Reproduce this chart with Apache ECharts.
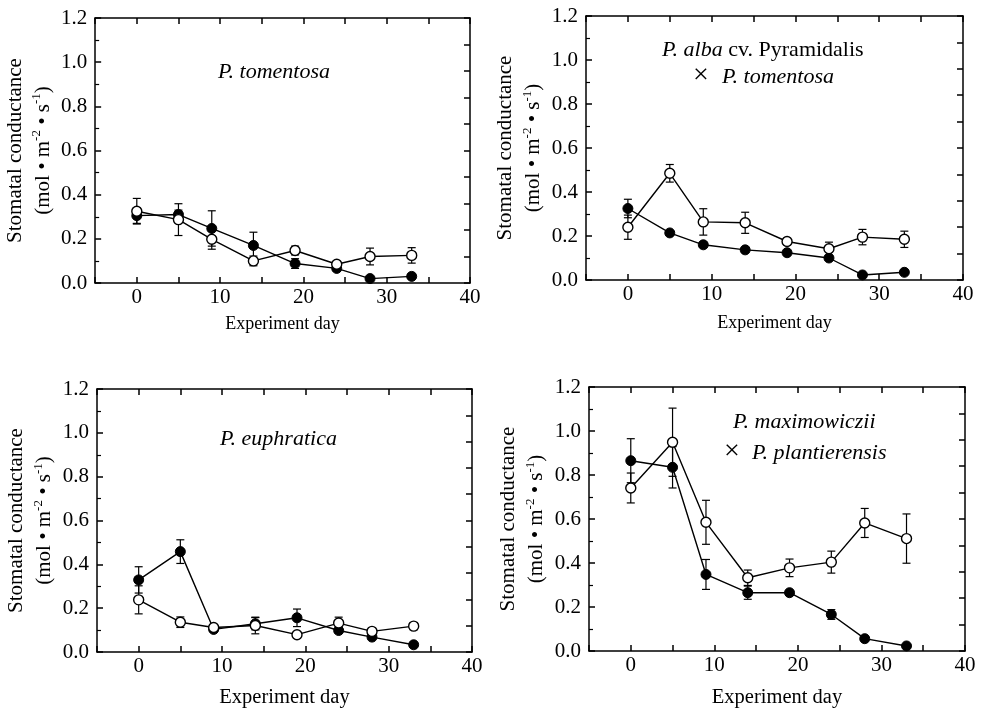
<!DOCTYPE html>
<html>
<head>
<meta charset="utf-8">
<script src="https://cdn.jsdelivr.net/npm/echarts@6/dist/echarts.min.js"></script>
<style>
  html, body { margin: 0; padding: 0; background: #fff; }
  #chart { width: 981px; height: 709px; }
</style>
</head>
<body>
<div id="chart"></div>
<script>
// experiment days (x) shared by every panel
const days = [0, 5, 9, 14, 19, 24, 28, 33];

// P. tomentosa
const tomFilled = [0.305, 0.31, 0.247, 0.17, 0.088, 0.066, 0.02, 0.03];
const tomFilledErr = [0.035, 0.02, 0.08, 0.06, 0.022, 0.01, 0.008, 0.008];
const tomOpen = [0.325, 0.287, 0.198, 0.10, 0.147, 0.085, 0.12, 0.125];
const tomOpenErr = [0.058, 0.072, 0.045, 0.022, 0.02, 0.01, 0.038, 0.035];

// P. alba cv. Pyramidalis x P. tomentosa
const albaFilled = [0.325, 0.214, 0.16, 0.137, 0.124, 0.10, 0.023, 0.035];
const albaFilledErr = [0.042, 0.01, 0.012, 0.01, 0.01, 0.008, 0.006, 0.006];
const albaOpen = [0.24, 0.485, 0.264, 0.26, 0.175, 0.142, 0.195, 0.185];
const albaOpenErr = [0.055, 0.04, 0.06, 0.048, 0.015, 0.03, 0.035, 0.037];

// P. euphratica
const euphFilled = [0.329, 0.458, 0.103, 0.129, 0.156, 0.098, 0.068, 0.033];
const euphFilledErr = [0.06, 0.054, 0.008, 0.028, 0.04, 0.01, 0.008, 0.006];
const euphOpen = [0.238, 0.136, 0.112, 0.121, 0.079, 0.132, 0.094, 0.118];
const euphOpenErr = [0.064, 0.024, 0.01, 0.038, 0.01, 0.027, 0.01, 0.016];

// P. maximowiczii x P. plantierensis
const maxiFilled = [0.865, 0.835, 0.348, 0.265, 0.265, 0.166, 0.056, 0.023];
const maxiFilledErr = [0.10, 0.094, 0.068, 0.03, 0.01, 0.022, 0.008, 0.006];
const maxiOpen = [0.741, 0.949, 0.585, 0.333, 0.378, 0.404, 0.582, 0.511];
const maxiOpenErr = [0.068, 0.155, 0.1, 0.035, 0.04, 0.05, 0.066, 0.112];

const yTicks = ['0.0', '0.2', '0.4', '0.6', '0.8', '1.0', '1.2'];
const xTicks = ['0', '10', '20', '30', '40'];

const panels = [
  { filled: tomFilled, filledErr: tomFilledErr, open: tomOpen, openErr: tomOpenErr },
  { filled: albaFilled, filledErr: albaFilledErr, open: albaOpen, openErr: albaOpenErr },
  { filled: euphFilled, filledErr: euphFilledErr, open: euphOpen, openErr: euphOpenErr },
  { filled: maxiFilled, filledErr: maxiFilledErr, open: maxiOpen, openErr: maxiOpenErr },
];

const FONT = '"Liberation Serif", "DejaVu Serif", serif';
const grids = [
  { left: 95, top: 18, width: 375, height: 265 },
  { left: 586, top: 16, width: 377, height: 264 },
  { left: 97, top: 389, width: 375, height: 264 },
  { left: 589, top: 387, width: 376, height: 265 },
];
const xNameGap = [32, 34, 35, 36];
const xNameSize = [18, 18, 20.5, 20.5];

const chart = echarts.init(document.getElementById('chart'));

const lineStyle = { color: '#000', width: 1.5 };
const xAxis = [];
const yAxis = [];
const series = [];

function errorBars(params, api) {
  const x = api.value(0);
  const y = api.value(1);
  const e = api.value(2);
  const hi = api.coord([x, y + e]);
  const lo = api.coord([x, y - e]);
  const w = 4;
  const st = { stroke: '#000', lineWidth: 1.2 };
  return {
    type: 'group',
    children: [
      { type: 'line', shape: { x1: hi[0], y1: hi[1], x2: lo[0], y2: lo[1] }, style: st },
      { type: 'line', shape: { x1: hi[0] - w, y1: hi[1], x2: hi[0] + w, y2: hi[1] }, style: st },
      { type: 'line', shape: { x1: lo[0] - w, y1: lo[1], x2: lo[0] + w, y2: lo[1] }, style: st },
    ],
  };
}

grids.forEach((g, i) => {
  // bottom axis with labels, top axis mirrors the ticks
  xAxis.push({
    type: 'value', gridIndex: i, position: 'bottom',
    min: -5, max: 40, interval: 5,
    axisLine: { onZero: false, lineStyle },
    axisTick: { inside: true, length: 6, lineStyle },
    splitLine: { show: false },
    axisLabel: {
      color: '#000', fontFamily: FONT, fontSize: 21, margin: 4,
      formatter: (v) => (xTicks.indexOf(String(v)) >= 0 ? String(v) : ''),
    },
    name: 'Experiment day', nameLocation: 'middle', nameGap: xNameGap[i],
    nameTextStyle: { color: '#000', fontFamily: FONT, fontSize: xNameSize[i] },
  });
  xAxis.push({
    type: 'value', gridIndex: i, position: 'top',
    min: -5, max: 40, interval: 5,
    axisLine: { onZero: false, lineStyle },
    axisTick: { inside: true, length: 6, lineStyle },
    axisLabel: { show: false },
    splitLine: { show: false },
  });
  yAxis.push({
    type: 'value', gridIndex: i, position: 'left',
    min: 0, max: 1.2, interval: 0.2,
    axisLine: { show: true, onZero: false, lineStyle },
    axisTick: { show: true, inside: true, length: 6, lineStyle },
    minorTick: { show: true, splitNumber: 2, length: 4, lineStyle: { color: '#000', width: 1.2 } },
    splitLine: { show: false },
    axisLabel: {
      color: '#000', fontFamily: FONT, fontSize: 21, margin: 8,
      formatter: (v) => yTicks[Math.round(v / 0.2)],
    },
    name: '{t|Stomatal conductance}\n{t|(mol • m}{s|-2}{t| • s}{s|-1}{t|)}',
    nameLocation: 'middle', nameRotate: 90, nameGap: 31,
    nameTextStyle: {
      color: '#000', fontFamily: FONT, fontSize: 21, lineHeight: 28,
      rich: {
        t: { fontFamily: FONT, fontSize: 21, color: '#000', lineHeight: 28 },
        s: { fontFamily: FONT, fontSize: 13, color: '#000', padding: [0, 0, 13, 0], lineHeight: 28 },
      },
    },
  });
  yAxis.push({
    type: 'value', gridIndex: i, position: 'right',
    min: 0, max: 1.2, interval: 0.12,
    axisLine: { show: true, onZero: false, lineStyle },
    axisTick: { show: true, inside: true, length: 6, lineStyle },
    axisLabel: { show: false },
    splitLine: { show: false },
  });

  const p = panels[i];
  const ax = { xAxisIndex: 2 * i, yAxisIndex: 2 * i };
  [['filled', 'filledErr'], ['open', 'openErr']].forEach(([k, ek]) => {
    series.push(Object.assign({
      type: 'custom', renderItem: errorBars, z: 2,
      encode: { x: 0, y: 1 },
      data: days.map((d, j) => [d, p[k][j], p[ek][j]]),
    }, ax));
  });
  series.push(Object.assign({
    type: 'line', z: 3, symbol: 'circle', symbolSize: 10,
    lineStyle: { color: '#000', width: 1.4 },
    itemStyle: { color: '#000', borderColor: '#000', borderWidth: 1 },
    data: days.map((d, j) => [d, p.filled[j]]),
  }, ax));
  series.push(Object.assign({
    type: 'line', z: 4, symbol: 'circle', symbolSize: 10,
    lineStyle: { color: '#000', width: 1.4 },
    itemStyle: { color: '#fff', borderColor: '#000', borderWidth: 1.4 },
    data: days.map((d, j) => [d, p.open[j]]),
  }, ax));
});

const rich = {
  i: { fontFamily: FONT, fontSize: 22, fontStyle: 'italic', color: '#000' },
  n: { fontFamily: FONT, fontSize: 22, color: '#000' },
  x: { fontFamily: FONT, fontSize: 28, color: '#000' },
};
function label(x, y, text) {
  return { type: 'text', left: x, top: y, style: { text, rich, fill: '#000', font: '22px ' + FONT } };
}

chart.setOption({
  animation: false,
  backgroundColor: '#fff',
  grid: grids.map((g) => Object.assign({ show: false }, g)),
  xAxis, yAxis, series,
  graphic: [
    label(218, 61, '{i|P. tomentosa}'),
    label(662, 39, '{i|P. alba} {n|cv. Pyramidalis}'),
    label(693, 62, '{x|×}'),
    label(722, 66, '{i|P. tomentosa}'),
    label(220, 428, '{i|P. euphratica}'),
    label(733, 411, '{i|P. maximowiczii}'),
    label(724, 438, '{x|×}'),
    label(752, 442, '{i|P. plantierensis}'),
  ],
});
</script>
</body>
</html>
